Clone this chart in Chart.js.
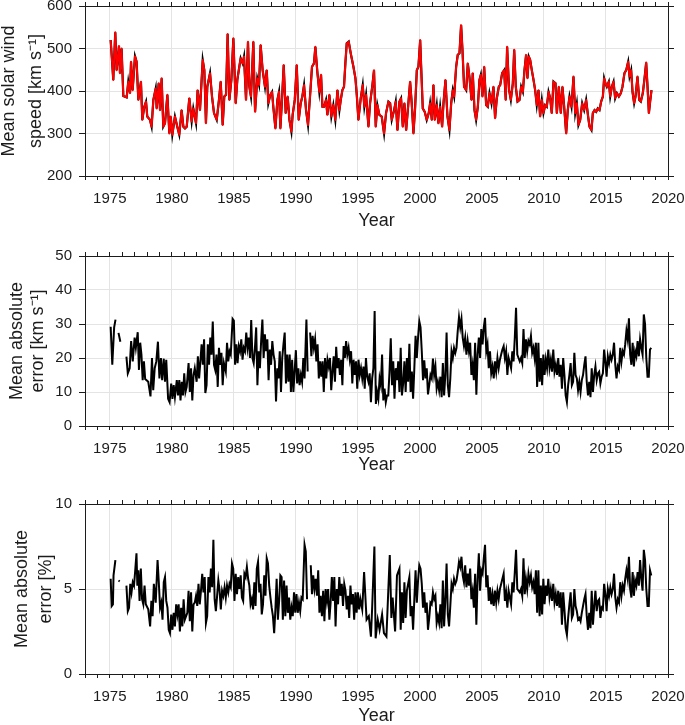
<!DOCTYPE html>
<html><head><meta charset="utf-8">
<script src="https://cdn.jsdelivr.net/npm/chart.js@4"></script>
<style>
html,body{margin:0;padding:0;background:#fff;}
#wrap{position:relative;width:685px;height:725px;overflow:hidden;background:#fff;}
canvas{position:absolute;left:0;}
</style></head><body>
<div id="wrap">
<canvas id="c1" width="685" height="243" style="top:0px"></canvas>
<canvas id="c2" width="685" height="243" style="top:243px"></canvas>
<canvas id="c3" width="685" height="239" style="top:486px"></canvas>
</div>
<script>
// ---------- axis settings ----------
const yearMin = 1973, yearMax = 2020;
const speedAxis = [200, 600, 100];
const maeKmsAxis = [0, 50, 10];
const maePctAxis = [0, 10, 5];
const speedTitle = ["Mean solar wind", "speed [km s\u207B\u00B9]"];
const maeKmsTitle = ["Mean absolute", "error [km s\u207B\u00B9]"];
const maePctTitle = ["Mean absolute", "error [%]"];

// ---------- panel 1: mean solar wind speed (observed black, model red) ----------
const speedYears = [
1975.07,1975.28,1975.44,1975.55,1975.74,1975.82,1975.95,1976.09,1976.36,1976.49,
1976.63,1976.71,1976.84,1977.03,1977.16,1977.30,1977.51,1977.62,1977.78,1977.92,
1978.02,1978.24,1978.37,1978.51,1978.70,1978.78,1978.94,1979.05,1979.18,1979.31,
1979.45,1979.64,1979.80,1979.91,1980.04,1980.25,1980.44,1980.60,1980.79,1980.93,
1981.06,1981.20,1981.41,1981.60,1981.73,1981.95,1982.08,1982.27,1982.49,1982.62,
1982.75,1982.86,1983.08,1983.24,1983.40,1983.62,1983.80,1983.94,1984.10,1984.23,
1984.37,1984.50,1984.64,1984.80,1984.96,1985.15,1985.28,1985.44,1985.55,1985.71,
1985.82,1985.98,1986.14,1986.25,1986.38,1986.57,1986.71,1986.89,1987.03,1987.16,
1987.32,1987.51,1987.65,1987.78,1987.94,1988.08,1988.18,1988.35,1988.51,1988.64,
1988.75,1988.88,1989.02,1989.18,1989.34,1989.48,1989.64,1989.74,1989.91,1990.07,
1990.23,1990.39,1990.52,1990.66,1990.82,1990.98,1991.14,1991.30,1991.46,1991.57,
1991.73,1991.89,1992.03,1992.14,1992.27,1992.43,1992.54,1992.70,1992.86,1993.02,
1993.18,1993.35,1993.51,1993.62,1993.75,1993.88,1993.99,1994.10,1994.26,1994.42,
1994.64,1994.80,1994.91,1995.04,1995.23,1995.39,1995.52,1995.66,1995.85,1995.98,
1996.17,1996.30,1996.44,1996.57,1996.73,1996.92,1997.11,1997.27,1997.46,1997.60,
1997.73,1997.92,1998.05,1998.19,1998.35,1998.48,1998.62,1998.75,1998.89,1999.07,
1999.21,1999.34,1999.48,1999.61,1999.75,1999.88,2000.02,2000.12,2000.23,2000.39,
2000.55,2000.71,2000.82,2000.96,2001.09,2001.20,2001.36,2001.49,2001.63,2001.79,
2001.90,2002.06,2002.22,2002.38,2002.52,2002.65,2002.76,2002.92,2003.05,2003.19,
2003.32,2003.43,2003.56,2003.73,2003.86,2003.99,2004.16,2004.26,2004.40,2004.53,
2004.67,2004.80,2004.91,2005.04,2005.18,2005.34,2005.47,2005.61,2005.77,2005.93,
2006.06,2006.20,2006.36,2006.47,2006.63,2006.79,2006.92,2007.03,2007.19,2007.33,
2007.49,2007.60,2007.73,2007.87,2008.03,2008.16,2008.30,2008.43,2008.56,2008.67,
2008.78,2008.89,2009.02,2009.16,2009.29,2009.42,2009.56,2009.69,2009.83,2009.96,
2010.10,2010.23,2010.37,2010.50,2010.63,2010.77,2010.93,2011.04,2011.20,2011.36,
2011.49,2011.63,2011.79,2011.92,2012.06,2012.22,2012.38,2012.52,2012.65,2012.78,
2012.92,2013.08,2013.24,2013.40,2013.56,2013.67,2013.83,2013.94,2014.08,2014.21,
2014.34,2014.48,2014.61,2014.75,2014.85,2014.96,2015.07,2015.23,2015.34,2015.47,
2015.61,2015.74,2015.88,2016.04,2016.20,2016.33,2016.49,2016.63,2016.79,2016.90,
2017.03,2017.14,2017.27,2017.38,2017.54,2017.68,2017.81,2017.97,2018.11,2018.24,
2018.35,2018.46,2018.56,2018.67
];
const speedValues = [
520,426,538,449,506,442,500,388,385,422,
395,469,402,482,469,379,422,332,363,375,
340,332,316,379,406,359,418,355,430,316,
324,391,300,340,297,340,316,297,355,316,
312,316,383,328,359,324,402,355,473,449,
324,410,442,387,348,332,379,422,320,387,
391,534,379,426,524,371,426,457,477,465,
481,379,516,410,387,516,351,430,414,508,
449,410,449,371,391,398,363,312,379,398,
312,379,461,348,387,332,304,344,379,461,
332,371,387,414,355,320,387,457,465,504,
445,398,438,363,363,379,344,391,340,367,
332,402,355,379,402,410,465,512,516,489,
457,430,391,332,383,414,363,391,316,371,
414,449,316,367,344,340,300,348,375,371,
332,355,375,308,375,383,316,371,308,371,
422,371,300,359,449,457,520,442,359,351,
332,348,371,332,414,332,367,324,363,316,
371,426,340,308,371,402,387,457,485,489,
555,497,410,402,465,434,379,442,355,332,
363,426,438,387,457,367,363,395,371,410,
336,383,410,414,442,449,379,504,402,379,
418,497,410,375,379,410,398,449,485,430,
481,473,449,426,402,367,402,340,379,348,
367,363,398,383,348,422,418,348,410,348,
410,363,300,355,387,363,434,348,371,320,
332,371,355,379,340,316,308,348,355,351,
359,355,375,387,430,418,410,422,387,410,
422,383,395,387,395,410,442,449,469,434,
449,398,371,387,434,379,375,395,430,467,
410,348,375,402
];

// ---------- panel 2: mean absolute error [km/s] ----------
const maeKmsYears = [
1975.07,1975.2,1975.35,1975.46,1975.6,1975.7,1975.85,1976.1,1976.34,1976.45,
1976.6,1976.72,1976.85,1977.0,1977.1,1977.25,1977.35,1977.45,1977.55,1977.65,
1977.75,1977.85,1978.1,1978.28,1978.4,1978.5,1978.62,1978.75,1978.88,1979.0,
1979.12,1979.22,1979.35,1979.45,1979.55,1979.7,1979.82,1979.95,1980.05,1980.15,
1980.25,1980.4,1980.5,1980.6,1980.7,1980.8,1980.9,1981.0,1981.1,1981.2,
1981.35,1981.45,1981.55,1981.65,1981.75,1981.85,1982.0,1982.1,1982.2,1982.3,
1982.4,1982.5,1982.6,1982.7,1982.8,1982.9,1983.0,1983.1,1983.2,1983.3,
1983.4,1983.5,1983.6,1983.7,1983.8,1983.9,1984.0,1984.1,1984.2,1984.35,
1984.45,1984.55,1984.65,1984.75,1984.9,1985.0,1985.1,1985.2,1985.3,1985.4,
1985.5,1985.6,1985.7,1985.8,1985.9,1986.0,1986.1,1986.2,1986.3,1986.4,
1986.5,1986.6,1986.7,1986.8,1986.9,1987.0,1987.1,1987.2,1987.3,1987.4,
1987.5,1987.6,1987.7,1987.8,1987.9,1988.0,1988.1,1988.2,1988.3,1988.4,
1988.5,1988.6,1988.7,1988.8,1988.9,1989.0,1989.1,1989.2,1989.3,1989.4,
1989.5,1989.6,1989.7,1989.8,1989.9,1990.0,1990.1,1990.2,1990.3,1990.4,
1990.5,1990.6,1990.7,1990.85,1990.95,1991.05,1991.15,1991.25,1991.35,1991.45,
1991.55,1991.65,1991.75,1991.85,1991.95,1992.05,1992.15,1992.25,1992.35,1992.45,
1992.55,1992.65,1992.75,1992.85,1992.95,1993.05,1993.15,1993.25,1993.35,1993.45,
1993.55,1993.65,1993.75,1993.85,1993.95,1994.05,1994.15,1994.25,1994.35,1994.45,
1994.55,1994.65,1994.75,1994.85,1994.95,1995.05,1995.15,1995.25,1995.35,1995.45,
1995.55,1995.65,1995.75,1995.85,1995.95,1996.05,1996.15,1996.25,1996.35,1996.45,
1996.55,1996.65,1996.75,1996.85,1996.95,1997.05,1997.15,1997.25,1997.35,1997.45,
1997.55,1997.65,1997.75,1997.85,1997.95,1998.05,1998.15,1998.25,1998.35,1998.45,
1998.55,1998.65,1998.75,1998.85,1998.95,1999.05,1999.15,1999.25,1999.35,1999.45,
1999.55,1999.65,1999.75,1999.85,1999.95,2000.05,2000.15,2000.25,2000.35,2000.45,
2000.55,2000.65,2000.75,2000.85,2000.95,2001.05,2001.15,2001.25,2001.35,2001.45,
2001.55,2001.65,2001.75,2001.85,2001.95,2002.05,2002.15,2002.25,2002.35,2002.45,
2002.55,2002.65,2002.75,2002.85,2002.95,2003.05,2003.15,2003.25,2003.35,2003.45,
2003.55,2003.65,2003.75,2003.85,2003.95,2004.05,2004.15,2004.25,2004.35,2004.45,
2004.55,2004.65,2004.75,2004.85,2004.95,2005.05,2005.15,2005.25,2005.35,2005.45,
2005.55,2005.65,2005.75,2005.85,2005.95,2006.05,2006.15,2006.25,2006.35,2006.45,
2006.55,2006.65,2006.75,2006.85,2006.95,2007.05,2007.15,2007.25,2007.35,2007.45,
2007.55,2007.65,2007.75,2007.85,2007.95,2008.05,2008.15,2008.25,2008.35,2008.45,
2008.55,2008.65,2008.75,2008.85,2008.95,2009.05,2009.15,2009.25,2009.35,2009.45,
2009.55,2009.65,2009.75,2009.85,2009.95,2010.05,2010.15,2010.25,2010.35,2010.45,
2010.55,2010.65,2010.75,2010.85,2010.95,2011.05,2011.15,2011.25,2011.35,2011.45,
2011.55,2011.65,2011.75,2011.85,2011.95,2012.05,2012.15,2012.25,2012.35,2012.45,
2012.55,2012.65,2012.75,2012.85,2012.95,2013.05,2013.15,2013.25,2013.35,2013.45,
2013.55,2013.65,2013.75,2013.85,2013.95,2014.05,2014.15,2014.25,2014.35,2014.45,
2014.55,2014.65,2014.75,2014.85,2014.95,2015.05,2015.15,2015.25,2015.35,2015.45,
2015.55,2015.65,2015.75,2015.85,2015.95,2016.05,2016.15,2016.25,2016.35,2016.45,
2016.55,2016.65,2016.75,2016.85,2016.95,2017.05,2017.15,2017.25,2017.35,2017.45,
2017.55,2017.65,2017.75,2017.85,2017.95,2018.05,2018.15,2018.25,2018.35,2018.45,
2018.55,2018.65
];
const maeKmsValues = [
29.2,18,29,31.3,null,27.4,24.8,null,20.4,15.5,
17,25,19,26,23,27.6,16.5,24.5,21,13.5,
19,13.8,13,8.7,20,10.5,17,19,24.8,14,
20,13.5,19.8,13,19.5,8,7,12.5,8,12,
8.5,13.5,9,13.5,7.5,13,9,15.5,10,11.5,
18.5,10,17,7.5,15,17,13,20.5,14,19,
24,18,25.5,9.7,12,24,18,26,21,30.7,
18,16.5,21,11.5,23,18,21.5,12,18.5,16,
24.5,19,22,21,31.5,31,18,24,18.5,23.5,
22,25.5,19.5,23,22,27.5,23,26,20,31.2,
20,18.5,23,29,12,22,17,25,31.3,20,
27,22,25.5,13.5,22.5,18,25,21,19,7.2,
17,14,22,10,20,24,27.5,12.5,21,13,
21,10,19.5,10,16,22.3,12.5,17,12,15,
13,20,14,31.3,16,null,27.5,20.5,26.5,23,
25.5,19,24,14,19,14.5,19,10,20,14,
19.5,17.5,20,10.5,16,20.5,13,23.3,17,20,
15,19.5,12,23.5,20,25,21,23,19.5,22,
12.5,19.5,15,19,11,19.5,15,17,14,17.5,
11,20,14.5,13,15.5,7,14,17,33.8,6.5,
10,8,14,12,21,7.5,11,7,9,9,
16,25.8,12,19,8,17,13.5,19,10,23,
9,12.5,19,10,20,13,24.2,10,16,8,
17,26.5,20,26,30.8,29,22,13.5,19.3,14,
17,9.3,12,15,14,19.8,15,17.5,11,13,
10.5,14.5,8.5,18.5,9,15,27.5,12,8.5,14,
22,20,23,21.5,23,28,32,29,31.5,26,
23.5,26,21,25,22,24.5,15,18,13.5,24.5,
9.2,21,26,20,28.5,24,29,31.8,22,24,
17,22,15.5,17.5,14,19,16,20,17,19.5,
21,22.5,23.5,20,22,15,20,18.5,17,22,
19,26,34.8,21,20,19,20,18.5,28.5,20,
25.5,22,25,24,26.5,21.5,23,20,24.5,11.5,
24.5,13,20,12,21,15,19.5,17,22.5,17,
19.5,16,22.5,16,18,15,20,14.5,18,11,
20,15,9,7,12,15,18.5,12,13,21.5,
15,14,10.5,13,10,13.5,15,18,20.5,13,
9,13,8.5,17,10,15,17.5,13.5,15.5,16,
12.5,14.5,15.5,22.5,19,14.5,20.5,18.5,21,19.5,
21,24.5,18,14,17.5,16.5,23,19,22,21,
24,28,25.5,31.7,21,18,24.5,17.5,22,20.5,
25,20.5,25.5,23,21,32.8,30,20,14.5,14.5,
22.5,23
];

// ---------- panel 3: mean absolute error [%] ----------
const maePctYears = [
1975.07,1975.15,1975.25,1975.3,1975.45,1975.6,1975.7,1975.8,1976.1,1976.34,
1976.45,1976.55,1976.65,1976.75,1976.85,1976.95,1977.05,1977.15,1977.22,1977.3,
1977.4,1977.5,1977.6,1977.7,1977.8,1977.9,1978.1,1978.25,1978.35,1978.45,
1978.55,1978.7,1978.85,1978.95,1979.05,1979.15,1979.25,1979.35,1979.45,1979.55,
1979.65,1979.75,1979.85,1979.95,1980.05,1980.15,1980.25,1980.35,1980.45,1980.55,
1980.65,1980.75,1980.85,1980.95,1981.05,1981.15,1981.25,1981.35,1981.45,1981.55,
1981.65,1981.75,1981.85,1981.95,1982.05,1982.15,1982.25,1982.35,1982.45,1982.55,
1982.65,1982.75,1982.85,1982.95,1983.05,1983.15,1983.25,1983.35,1983.45,1983.55,
1983.65,1983.75,1983.85,1983.95,1984.05,1984.15,1984.25,1984.35,1984.45,1984.55,
1984.65,1984.75,1984.85,1984.95,1985.05,1985.15,1985.25,1985.35,1985.45,1985.55,
1985.65,1985.75,1985.85,1985.95,1986.05,1986.15,1986.25,1986.35,1986.45,1986.55,
1986.65,1986.75,1986.85,1986.95,1987.05,1987.15,1987.25,1987.35,1987.45,1987.55,
1987.65,1987.75,1987.85,1987.95,1988.05,1988.15,1988.25,1988.35,1988.45,1988.55,
1988.65,1988.75,1988.85,1988.95,1989.05,1989.15,1989.25,1989.35,1989.45,1989.55,
1989.65,1989.75,1989.85,1989.95,1990.05,1990.15,1990.25,1990.35,1990.45,1990.55,
1990.7,1990.8,1990.9,1991.05,1991.2,1991.3,1991.4,1991.5,1991.6,1991.7,
1991.8,1991.9,1992.0,1992.1,1992.2,1992.3,1992.4,1992.5,1992.6,1992.7,
1992.8,1992.9,1993.0,1993.1,1993.2,1993.3,1993.4,1993.5,1993.6,1993.7,
1993.8,1993.9,1994.0,1994.1,1994.2,1994.3,1994.4,1994.5,1994.6,1994.7,
1994.8,1994.9,1995.0,1995.1,1995.2,1995.35,1995.5,1995.7,1995.88,1996.05,
1996.15,1996.33,1996.43,1996.6,1996.75,1996.95,1997.1,1997.3,1997.45,1997.57,
1997.7,1997.8,1998.0,1998.15,1998.35,1998.45,1998.55,1998.65,1998.75,1998.85,
1998.95,1999.05,1999.15,1999.25,1999.35,1999.45,1999.55,1999.65,1999.75,1999.85,
1999.95,2000.05,2000.15,2000.25,2000.35,2000.45,2000.55,2000.65,2000.75,2000.85,
2000.95,2001.05,2001.15,2001.25,2001.35,2001.45,2001.55,2001.65,2001.75,2001.85,
2001.95,2002.05,2002.15,2002.25,2002.35,2002.45,2002.55,2002.65,2002.75,2002.85,
2002.95,2003.05,2003.15,2003.25,2003.35,2003.45,2003.55,2003.65,2003.75,2003.85,
2003.95,2004.05,2004.15,2004.25,2004.35,2004.45,2004.55,2004.65,2004.75,2004.85,
2004.95,2005.05,2005.15,2005.25,2005.35,2005.45,2005.55,2005.65,2005.75,2005.85,
2005.95,2006.05,2006.15,2006.25,2006.35,2006.45,2006.55,2006.65,2006.75,2006.85,
2006.95,2007.05,2007.15,2007.25,2007.35,2007.45,2007.55,2007.65,2007.75,2007.85,
2007.95,2008.05,2008.15,2008.25,2008.35,2008.45,2008.55,2008.65,2008.75,2008.85,
2008.95,2009.05,2009.15,2009.25,2009.35,2009.45,2009.55,2009.65,2009.75,2009.85,
2009.95,2010.05,2010.15,2010.25,2010.35,2010.45,2010.55,2010.65,2010.75,2010.85,
2010.95,2011.05,2011.15,2011.25,2011.35,2011.45,2011.55,2011.65,2011.75,2011.85,
2011.95,2012.05,2012.15,2012.25,2012.35,2012.45,2012.55,2012.65,2012.75,2012.85,
2012.95,2013.05,2013.15,2013.25,2013.35,2013.45,2013.55,2013.65,2013.75,2013.85,
2013.95,2014.05,2014.15,2014.25,2014.35,2014.45,2014.55,2014.65,2014.75,2014.85,
2014.95,2015.05,2015.15,2015.25,2015.35,2015.45,2015.55,2015.65,2015.75,2015.85,
2015.95,2016.05,2016.15,2016.25,2016.35,2016.45,2016.55,2016.65,2016.75,2016.85,
2016.95,2017.05,2017.15,2017.25,2017.35,2017.45,2017.55,2017.65,2017.75,2017.85,
2017.95,2018.05,2018.15,2018.25,2018.35,2018.45,2018.55,2018.65
];
const maePctValues = [
5.6,4.0,4.1,5.8,6.7,null,5.5,5.45,null,5.2,
3.7,3.9,5.3,4.8,5.4,5.2,6.1,7.1,5.2,6.1,
4.3,6.2,4.4,4.1,5.2,4.1,3.8,2.8,4.3,3.4,
5.3,4.2,6.7,5.4,3.9,4.2,3.2,5.4,5.7,4.3,
3.9,2.6,2.4,3.5,2.6,3.6,2.8,4.1,3.5,4.1,
2.5,3.9,2.8,4.4,3.2,3.4,3.6,4.9,3.1,4.8,
2.5,4.1,4.2,4.6,4.0,5.3,4.1,4.9,5.9,4.8,
5.7,3.0,3.4,5.7,4.8,6.2,5.1,7.9,4.4,3.7,
4.6,5.5,4.9,3.8,4.9,4.6,5.1,4.5,5.2,4.8,
5.3,5.1,6.5,6.2,4.3,5.9,4.7,5.7,5.0,5.8,
4.5,4.3,5.9,5.7,6.3,5.6,5.2,4.1,4.4,3.8,
5.4,4.0,6.2,6.6,4.8,5.3,3.5,4.1,5.8,4.6,
6.8,6.5,5.2,4.5,3.9,3.4,2.4,3.8,5.6,3.2,
4.3,5.8,5.7,3.2,5.5,3.4,5.2,3.6,4.5,3.2,
3.9,3.4,4.8,3.6,4.7,3.6,4.2,3.7,4.5,4.4,
7.6,7.2,4.4,null,6.4,4.7,5.8,5.0,5.6,4.6,
6.1,3.6,4.6,3.4,4.9,3.1,5.0,4.3,5.0,3.2,
4.2,5.7,4.3,5.7,2.8,5.0,4.1,5.7,4.6,5.3,
4.0,5.3,4.9,3.8,4.6,3.3,5.2,4.1,4.7,3.2,
4.8,3.6,4.8,3.8,4.4,3.8,6.0,3.2,3.4,2.2,
3.9,7.5,2.1,3.2,2.6,3.5,2.4,2.2,4.9,7.0,
3.3,4.5,2.5,5.8,6.2,2.6,4.8,3.0,5.4,3.3,
4.9,5.3,5.7,3.4,4.0,2.6,4.4,6.1,4.2,5.5,
6.4,6.2,5.3,3.9,4.8,3.6,4.2,2.6,3.3,4.2,
4.1,4.8,4.4,4.6,3.0,3.4,3.0,4.1,2.7,5.5,
2.8,4.4,6.5,3.5,2.8,4.0,5.3,5.0,5.6,5.3,
5.5,6.0,6.6,6.3,6.9,5.8,5.4,6.4,5.1,5.9,
5.2,6.2,4.4,4.9,3.9,5.9,2.9,5.6,7.1,4.9,
6.1,5.9,6.8,7.6,5.1,5.8,4.3,5.1,4.1,4.7,
4.0,4.9,4.2,4.9,4.4,5.0,5.3,5.6,5.9,4.3,
4.8,3.9,4.9,4.5,4.1,5.4,4.8,6.0,7.3,5.0,
4.9,4.8,5.0,4.6,6.8,4.7,5.6,5.0,5.9,5.4,
5.8,5.1,5.4,4.7,6.1,3.6,6.1,3.4,5.2,3.5,
5.6,4.1,5.2,4.6,5.6,4.5,5.0,4.3,5.3,4.2,
4.7,4.0,4.9,3.9,4.8,2.9,4.8,3.8,2.7,2.3,
3.3,4.1,4.8,3.3,3.5,5.0,4.0,3.7,3.2,3.3,
3.1,3.6,4.0,4.4,4.7,3.4,2.6,3.6,2.7,4.9,
2.9,4.0,4.9,3.7,4.3,4.4,3.3,3.9,3.8,5.3,
4.7,3.7,5.0,4.6,5.1,4.7,5.0,5.9,4.5,3.9,
4.4,4.2,5.4,4.6,5.2,4.9,5.6,6.1,5.6,6.9,
5.0,4.5,6.0,4.6,5.5,5.2,6.0,5.2,6.7,5.6,
4.9,7.3,6.7,5.0,4.0,4.0,6.1,5.8
];

// ---------- drawing ----------
const FONT = "'Liberation Sans', Arial, Helvetica, sans-serif";
const INK = '#1c1c1c';
const GRID = '#e4e4e4';

function pts(xs, ys) { return xs.map((x, i) => ({ x: x, y: ys[i] })); }

function xGridColor(c) {
  return (c.tick && Math.round(c.tick.value) % 5 === 0) ? GRID : 'rgba(0,0,0,0)';
}

function makePanel(id, datasets, axis, title, L) {
  const [ymin, ymax, ystep] = axis;
  new Chart(document.getElementById(id), {
    type: 'line',
    data: { datasets: datasets },
    options: {
      responsive: false, animation: false, devicePixelRatio: 1,
      layout: { padding: { left: 0, right: 11, top: L.padTop, bottom: 0 } },
      plugins: { legend: { display: false }, tooltip: { enabled: false } },
      elements: { point: { radius: 0 }, line: { tension: 0 } },
      scales: {
        x: {
          type: 'linear', position: 'bottom', min: yearMin, max: yearMax,
          ticks: { stepSize: 1, autoSkip: false, maxRotation: 0, minRotation: 0, padding: 10,
                   color: INK, font: { family: FONT, size: 15 },
                   callback: v => (Math.round(v) % 5 === 0 ? String(Math.round(v)) : '') },
          grid: { color: xGridColor, tickColor: INK, tickLength: 4, lineWidth: 1 },
          border: { color: INK, width: 1 },
          title: { display: true, text: 'Year', color: INK, font: { family: FONT, size: 18 },
                   padding: { top: 0, bottom: L.yearPad } },
          afterFit: s => { s.height = L.xAxisH; s.paddingLeft = 0; s.paddingRight = 0; }
        },
        xTop: {
          type: 'linear', position: 'top', min: yearMin, max: yearMax,
          ticks: { display: false, stepSize: 1, autoSkip: false },
          grid: { drawOnChartArea: false, tickColor: INK, tickLength: 4 },
          border: { color: INK, width: 1 },
          afterFit: s => { s.height = 4; s.paddingLeft = 0; s.paddingRight = 0; }
        },
        y: {
          position: 'left', min: ymin, max: ymax,
          ticks: { stepSize: ystep, padding: 7, color: INK, font: { family: FONT, size: 15 } },
          grid: { color: GRID, tickColor: INK, tickLength: 6 },
          border: { color: INK, width: 1 },
          title: { display: true, text: title, color: INK,
                   font: { family: FONT, size: 18, lineHeight: L.titleLH + 'px' },
                   padding: { top: L.titlePad, bottom: 0 } },
          afterFit: s => { s.width = 85; s.paddingTop = 0; s.paddingBottom = 0; }
        },
        yRight: {
          position: 'right', min: ymin, max: ymax,
          ticks: { display: false, stepSize: ystep },
          grid: { drawOnChartArea: false, tickColor: INK, tickLength: 6 },
          border: { color: INK, width: 1 },
          afterFit: s => { s.width = 6; s.paddingTop = 0; s.paddingBottom = 0; }
        }
      }
    }
  });
}

const speedPts = pts(speedYears, speedValues);
makePanel('c1', [
  { label: 'model', data: speedPts, borderColor: '#ff0000', borderWidth: 2, borderJoinStyle: 'round', xAxisID: 'x', yAxisID: 'y' },
  { label: 'observed', data: speedPts, borderColor: '#000000', borderWidth: 2.2, borderJoinStyle: 'miter', xAxisID: 'x', yAxisID: 'y' }
], speedAxis, speedTitle, { padTop: 2, xAxisH: 67, yearPad: 11, titleLH: 27.5, titlePad: -4.75 });

makePanel('c2', [
  { label: 'MAE km/s', data: pts(maeKmsYears, maeKmsValues), borderColor: '#000', borderWidth: 2, spanGaps: false, xAxisID: 'x', yAxisID: 'y' }
], maeKmsAxis, maeKmsTitle, { padTop: 9, xAxisH: 60, yearPad: 10, titleLH: 21, titlePad: 7 });

makePanel('c3', [
  { label: 'MAE %', data: pts(maePctYears, maePctValues), borderColor: '#000', borderWidth: 2, spanGaps: false, xAxisID: 'x', yAxisID: 'y' }
], maePctAxis, maePctTitle, { padTop: 14, xAxisH: 51, yearPad: -2, titleLH: 24, titlePad: 10 });
</script>
</body></html>
